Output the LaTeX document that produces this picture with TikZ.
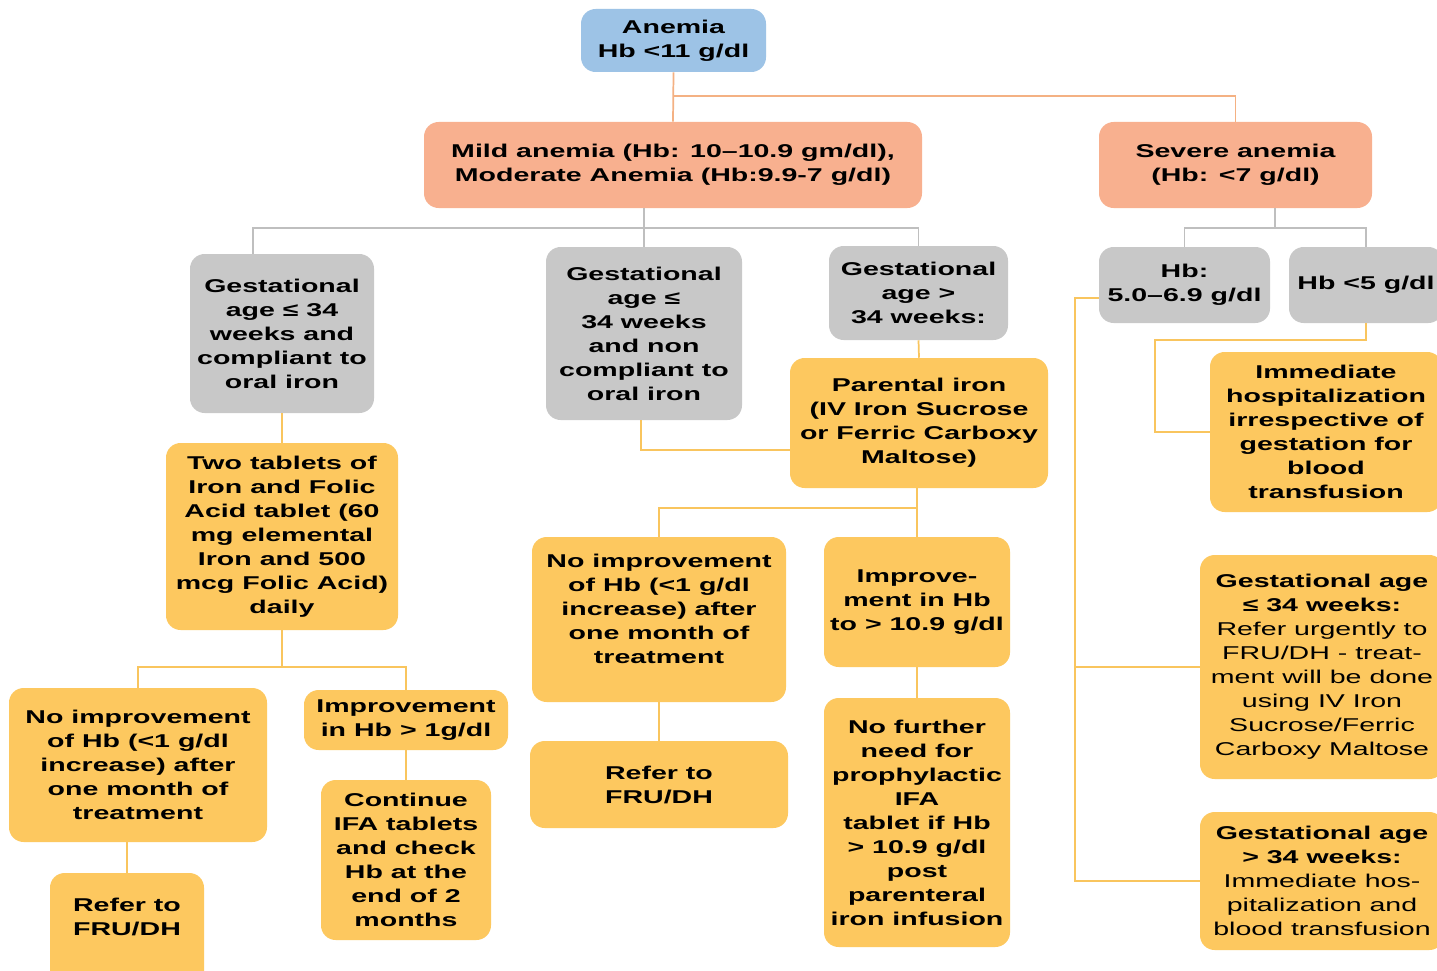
\documentclass[tikz,border=0pt]{standalone}
\usepackage{fontspec}
\setmainfont{Liberation Sans}[FakeStretch=1.54]
\definecolor{cblue}{HTML}{9DC3E6}
\definecolor{csal}{HTML}{F8B08F}
\definecolor{cgray}{HTML}{C8C8C8}
\definecolor{cyel}{HTML}{FDC85F}
\definecolor{lsal}{HTML}{F4B183}
\definecolor{lgray}{HTML}{BFBFBF}
\definecolor{lyel}{HTML}{F9C55E}
\tikzset{
  box/.style={rounded corners=11pt, inner sep=0pt, align=center,
    font=\bfseries\fontsize{13.9pt}{18pt}\selectfont, text=black},
  sz/.style 2 args={minimum width=#1*0.75pt, minimum height=#2*0.75pt},
  bluebox/.style={box, fill=cblue},
  salbox/.style={box, fill=csal},
  graybox/.style={box, fill=cgray},
  yelbox/.style={box, fill=cyel},
  txt/.style={inner sep=0pt, align=center, font=\bfseries\fontsize{13.9pt}{18pt}\selectfont, text=black},
  salline/.style={draw=lsal, line width=1.3pt},
  grayline/.style={draw=lgray, line width=1.3pt},
  yelline/.style={draw=lyel, line width=1.3pt},
}
\newcommand{\rg}{\mdseries}
\begin{document}
\begin{tikzpicture}[x=0.75pt, y=-0.75pt]
\useasboundingbox (0,0) rectangle (1437,970);
\clip (0,0) rectangle (1437,970);
\fill[white] (0,0) rectangle (1437,970);

% nodes
\node[bluebox, sz={185}{63}] (anem) at (673.5,40.5) {Anemia\\Hb <11 g/dl};
\node[salbox, sz={498}{86}] (mild) at (673,165) {Mild anemia (Hb: 10–10.9 gm/dl),\\Moderate Anemia (Hb:9.9-7 g/dl)};
\node[salbox, sz={273}{86}] (sev) at (1235.5,165) {Severe anemia\\(Hb: <7 g/dl)};

\node[graybox, sz={184}{159}] (g1) at (282,333.5) {Gestational\\age ≤ 34\\weeks and\\compliant to\\oral iron};
\node[graybox, sz={196}{173}] (g2) at (644,333.5) {Gestational\\age ≤\\34 weeks\\and non\\compliant to\\oral iron};
\node[graybox, sz={179}{94}] (g3) at (918.5,293) {Gestational\\age >\\34 weeks:};
\node[graybox, sz={171}{76}] (h1) at (1184.5,285) {Hb:\\5.0–6.9 g/dl};
\node[graybox, sz={154}{76}] (h2) at (1366,285) {Hb <5 g/dl};

\node[yelbox, sz={232}{187}] (t1) at (282,536.5) {Two tablets of\\Iron and Folic\\Acid tablet (60\\mg elemental\\Iron and 500\\mcg Folic Acid)\\daily};
\node[yelbox, sz={258}{154}] (n1) at (138,765) {No improvement\\of Hb (<1 g/dl\\increase) after\\one month of\\treatment};
\node[yelbox, sz={204}{60}] (i1) at (406,720) {Improvement\\in Hb > 1g/dl};
\node[yelbox, sz={154}{117}] (r1) at (127,931.5) {};
\node[txt] at (127,917) {Refer to\\FRU/DH};
\node[yelbox, sz={170}{160}] (c1) at (406,860) {Continue\\IFA tablets\\and check\\Hb at the\\end of 2\\months};

\node[yelbox, sz={258}{130}] (p) at (919,423) {Parental iron\\(IV Iron Sucrose\\or Ferric Carboxy\\Maltose)};
\node[yelbox, sz={254}{165}] (n2) at (659,619.5) {};
\node[txt] at (659,609) {No improvement\\of Hb (<1 g/dl\\increase) after\\one month of\\treatment};
\node[yelbox, sz={186}{130}] (i2) at (917,602) {Improve-\\ment in Hb\\to > 10.9 g/dl};
\node[yelbox, sz={258}{87}] (r2) at (659,784.5) {Refer to\\FRU/DH};
\node[yelbox, sz={186}{249}] (f) at (917,822.5) {No further\\need for\\prophylactic\\IFA\\tablet if Hb\\> 10.9 g/dl\\post\\parenteral\\iron infusion};

\node[yelbox, sz={232}{160}] (im) at (1326,432) {Immediate\\hospitalization\\irrespective of\\gestation for\\blood\\transfusion};
\node[yelbox, sz={244}{224}] (ga1) at (1322,667) {Gestational age\\≤ 34 weeks:\\\rg Refer urgently to\\\rg FRU/DH - treat-\\\rg ment will be done\\\rg using IV Iron\\\rg Sucrose/Ferric\\\rg Carboxy Maltose};
\node[yelbox, sz={244}{138}] (ga2) at (1322,881) {Gestational age\\> 34 weeks:\\\rg Immediate hos-\\\rg pitalization and\\\rg blood transfusion};

% salmon connectors
\coordinate (j0) at (673.5,96);
\draw[salline] (anem.south) -- (mild.north);
\draw[salline] (j0) -| (sev.north);

% gray connectors
\coordinate (j1) at (644,228);
\coordinate (j1a) at (253,228);
\draw[grayline] (j1 |- mild.south) -- (g2.north);
\draw[grayline] (j1a |- g1.north) -- (j1a) -| (g3.north);
\coordinate (j2) at (1275,228);
\draw[grayline] (j2 |- sev.south) -- (j2);
\draw[grayline] (h1.north) |- (j2) -| (h2.north);

% yellow connectors
\draw[yelline] (g1.south) -- (t1.north);
\coordinate (j3) at (282,667);
\draw[yelline] (t1.south) -- (j3);
\draw[yelline] (n1.north) |- (j3) -| (i1.north);
\draw[yelline] (r1.north |- n1.south) -- (r1.north);
\draw[yelline] (i1.south) -- (c1.north);

\coordinate (j4) at (641,450);
\draw[yelline] (j4 |- g2.south) -- (j4) -- (j4 -| p.west);
\draw[yelline] (g3.south) -- (p.north);
\coordinate (j5) at (917,508);
\draw[yelline] (j5 |- p.south) -- (j5);
\draw[yelline] (n2.north) |- (j5) -- (i2.north);
\draw[yelline] (n2.south) -- (r2.north);
\draw[yelline] (i2.south) -- (f.north);

\coordinate (j6) at (1155,340);
\draw[yelline] (h2.south) |- (j6) -- (j6 |- im.west) -- (im.west);
\coordinate (j8) at (1075,298);
\draw[yelline] (j8 -| h1.west) -- (j8) -- (j8 |- ga2.west) -- (ga2.west);
\draw[yelline] (j8 |- ga1.west) -- (ga1.west);
\end{tikzpicture}
\end{document}
